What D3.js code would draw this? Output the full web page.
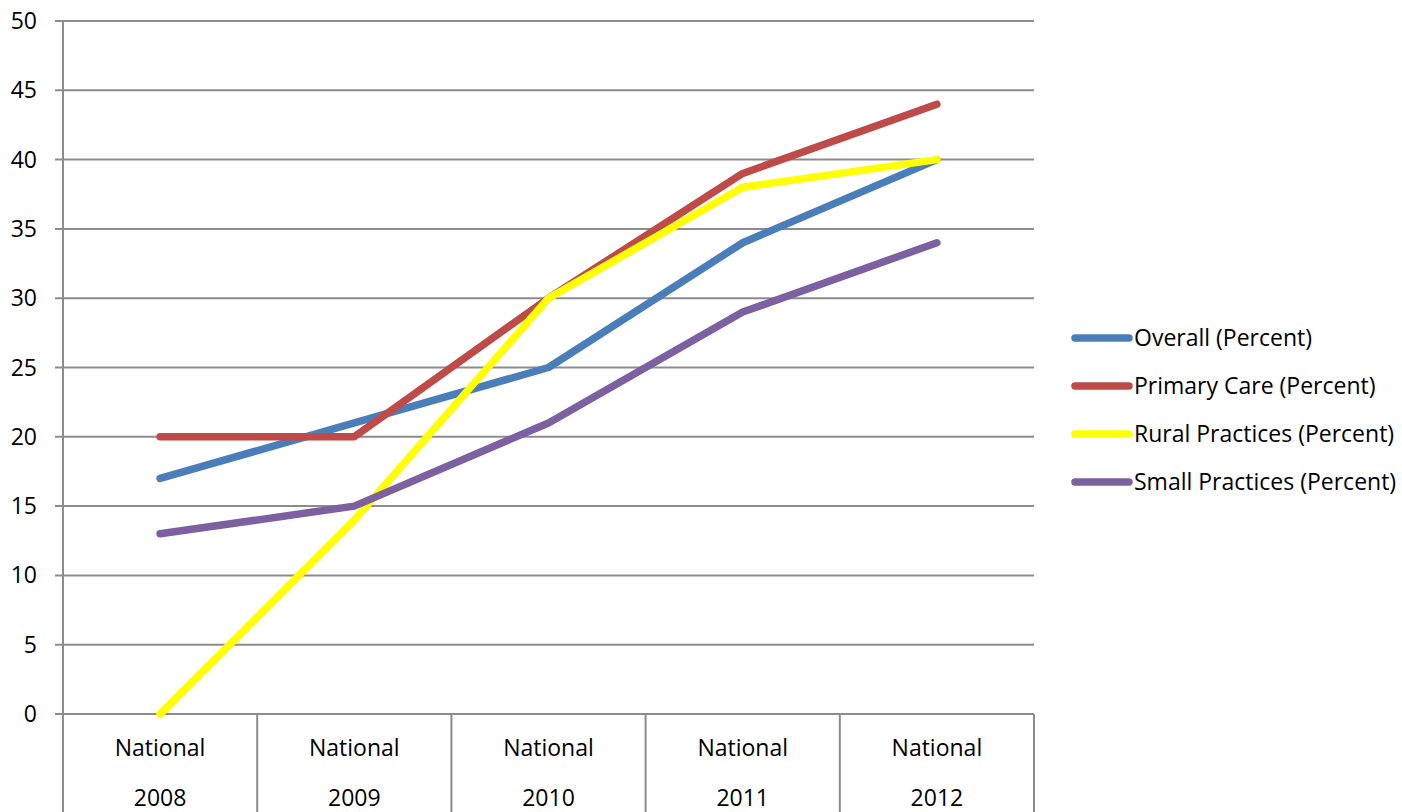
<!DOCTYPE html>
<html>
<head>
<meta charset="utf-8">
<script src="https://cdn.jsdelivr.net/npm/d3@7"></script>
<style>
  html, body { margin: 0; padding: 0; background: #fff; }
  svg { display: block; font-family: "Open Sans", "Noto Sans", sans-serif; }
</style>
</head>
<body>
<svg id="chart" width="1402" height="812"></svg>
<script>
// Category labels (two lines each) and series values in percent
const categoryTop = ["National", "National", "National", "National", "National"];
const categoryYears = ["2008", "2009", "2010", "2011", "2012"];
const overall = [17, 21, 25, 34, 40];
const primaryCare = [20, 20, 30, 39, 44];
const ruralPractices = [0, 14, 30, 38, 40];
const smallPractices = [13, 15, 21, 29, 34];
const seriesNames = ["Overall (Percent)", "Primary Care (Percent)", "Rural Practices (Percent)", "Small Practices (Percent)"];
const seriesColors = ["#4a7ebb", "#be4b48", "#ffff00", "#7d60a0"];
const yTicks = [0, 5, 10, 15, 20, 25, 30, 35, 40, 45, 50];

const seriesValues = [overall, primaryCare, ruralPractices, smallPractices];

const svg = d3.select("#chart");
const plotLeft = 63, plotRight = 1034, plotTop = 21, plotBottom = 714;
const gridColor = "#8c8c8c";
const fontSize = 23;

const x = d3.scaleBand().domain(categoryYears).range([plotLeft, plotRight]).paddingInner(0).paddingOuter(0);
const y = d3.scaleLinear().domain([0, 50]).range([plotBottom, plotTop]);

// Horizontal gridlines with small ticks to the left of the axis
svg.append("g").selectAll("line")
  .data(yTicks)
  .join("line")
  .attr("x1", plotLeft - 8)
  .attr("x2", plotRight)
  .attr("y1", d => y(d))
  .attr("y2", d => y(d))
  .attr("stroke", gridColor)
  .attr("stroke-width", 2);

// Y tick labels
svg.append("g").selectAll("text")
  .data(yTicks)
  .join("text")
  .attr("x", 37)
  .attr("y", d => y(d))
  .attr("dy", "0.35em")
  .attr("text-anchor", "end")
  .attr("font-size", fontSize)
  .attr("fill", "#000")
  .text(d => d);

// Vertical value axis
svg.append("line")
  .attr("x1", plotLeft).attr("x2", plotLeft)
  .attr("y1", plotTop).attr("y2", 812)
  .attr("stroke", gridColor).attr("stroke-width", 2);

// Category separators below the axis
const bounds = categoryYears.map(c => x(c)).concat([x(categoryYears[categoryYears.length - 1]) + x.bandwidth()]);
svg.append("g").selectAll("line")
  .data(bounds.slice(1))
  .join("line")
  .attr("x1", d => d).attr("x2", d => d)
  .attr("y1", plotBottom).attr("y2", 812)
  .attr("stroke", gridColor).attr("stroke-width", 2);

// Category labels
const cat = svg.append("g");
cat.selectAll("text.top")
  .data(categoryYears)
  .join("text")
  .attr("class", "top")
  .attr("x", d => x(d) + x.bandwidth() / 2)
  .attr("y", 756)
  .attr("text-anchor", "middle")
  .attr("font-size", fontSize)
  .text((d, i) => categoryTop[i]);
cat.selectAll("text.year")
  .data(categoryYears)
  .join("text")
  .attr("class", "year")
  .attr("x", d => x(d) + x.bandwidth() / 2)
  .attr("y", 806)
  .attr("text-anchor", "middle")
  .attr("font-size", fontSize)
  .text(d => d);

// Series lines
const line = d3.line()
  .x((d, i) => x(categoryYears[i]) + x.bandwidth() / 2)
  .y(d => y(d));

svg.append("g").selectAll("path")
  .data(seriesValues)
  .join("path")
  .attr("d", d => line(d))
  .attr("fill", "none")
  .attr("stroke", (d, i) => seriesColors[i])
  .attr("stroke-width", 7.5)
  .attr("stroke-linecap", "round")
  .attr("stroke-linejoin", "round");

// Legend
const legendY = d3.scalePoint().domain(seriesNames).range([338, 482]);
const legend = svg.append("g");
legend.selectAll("line")
  .data(seriesNames)
  .join("line")
  .attr("x1", 1075).attr("x2", 1129)
  .attr("y1", d => legendY(d)).attr("y2", d => legendY(d))
  .attr("stroke", (d, i) => seriesColors[i])
  .attr("stroke-width", 7.5)
  .attr("stroke-linecap", "round");
legend.selectAll("text")
  .data(seriesNames)
  .join("text")
  .attr("x", 1134)
  .attr("y", d => legendY(d))
  .attr("dy", "0.35em")
  .attr("font-size", fontSize)
  .text(d => d);
</script>
</body>
</html>
